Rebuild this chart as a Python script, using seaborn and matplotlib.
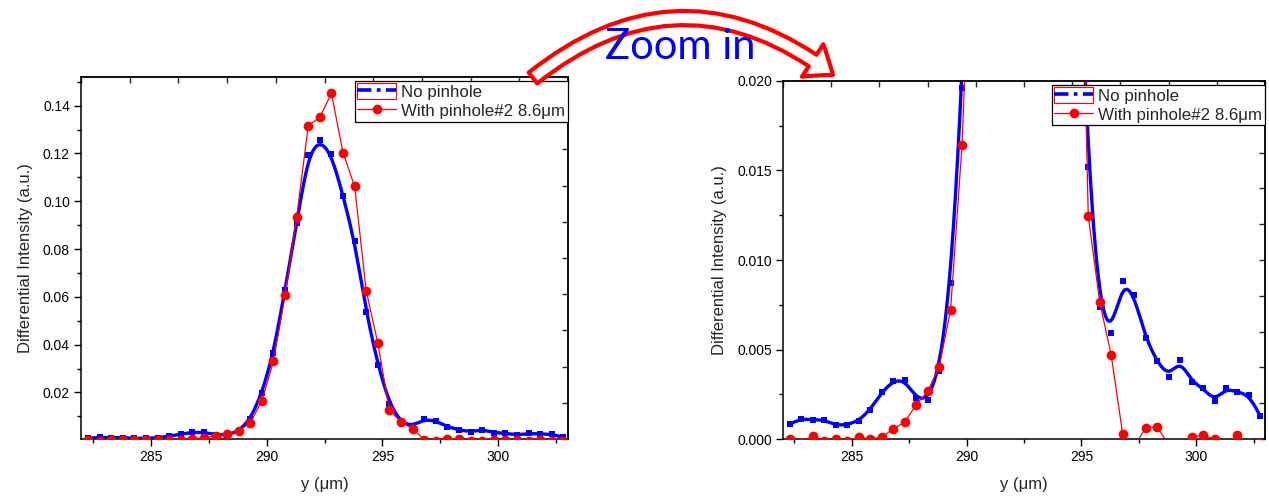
import numpy as np
import pandas as pd
import matplotlib
matplotlib.use("Agg")
import matplotlib.pyplot as plt
import seaborn as sns
from matplotlib.lines import Line2D
from matplotlib.patches import Rectangle, FancyArrowPatch
from matplotlib.legend_handler import HandlerTuple
from matplotlib.ticker import MultipleLocator, FormatStrFormatter

# positions along y (um)
y_pos = [282.3, 282.8, 283.3, 283.8, 284.3, 284.8, 285.3, 285.8, 286.3, 286.8,
         287.3, 287.8, 288.3, 288.8, 289.3, 289.8, 290.3, 290.8, 291.3, 291.8,
         292.3, 292.8, 293.3, 293.8, 294.3, 294.8, 295.3, 295.8, 296.3, 296.8,
         297.3, 297.8, 298.3, 298.8, 299.3, 299.8, 300.3, 300.8, 301.3, 301.8,
         302.3, 302.8]

no_pinhole = [0.00084, 0.00113, 0.00108, 0.00106, 0.00076, 0.00080, 0.00102, 0.00164,
              0.00260, 0.00325, 0.00330, 0.00229, 0.00216, 0.00380, 0.00870, 0.01960,
              0.0365, 0.0630, 0.0909, 0.1195, 0.1257, 0.1197, 0.1023, 0.0832,
              0.0536, 0.0316, 0.0152, 0.0074, 0.0059, 0.0088, 0.00805, 0.00563,
              0.00433, 0.00349, 0.00442, 0.00321, 0.00284, 0.00212, 0.00284, 0.00262,
              0.00247, 0.00126]

with_pinhole = [0.0, -0.0002, 0.00018, -0.0001, 0.00002, -0.0001, 0.0001, 0.0,
                0.0001, 0.00056, 0.00095, 0.0019, 0.00266, 0.0040, 0.0072, 0.0164,
                0.0330, 0.0606, 0.0934, 0.1316, 0.1352, 0.1451, 0.1203, 0.1062,
                0.0625, 0.0406, 0.01245, 0.00764, 0.00468, 0.00028, -0.0004, 0.00061,
                0.00067, -0.0003, -0.0004, 0.00011, 0.0002, 0.0, -0.0003, 0.0002,
                -0.0003, -0.0002]

label_a = "No pinhole"
label_b = "With pinhole#2 8.6\u03bcm"


def bspline(x, y, steps=16):
    # uniform cubic B-spline, data points used as control points (like Origin)
    px = np.r_[x[0], x[0], x, x[-1], x[-1]]
    py = np.r_[y[0], y[0], y, y[-1], y[-1]]
    t = np.linspace(0, 1, steps, endpoint=False)
    b0 = (1 - t) ** 3 / 6
    b1 = (3 * t ** 3 - 6 * t ** 2 + 4) / 6
    b2 = (-3 * t ** 3 + 3 * t ** 2 + 3 * t + 1) / 6
    b3 = t ** 3 / 6
    xs, ys = [], []
    for i in range(len(px) - 3):
        xs.append(b0 * px[i] + b1 * px[i + 1] + b2 * px[i + 2] + b3 * px[i + 3])
        ys.append(b0 * py[i] + b1 * py[i + 1] + b2 * py[i + 2] + b3 * py[i + 3])
    xs.append([px[-1]])
    ys.append([py[-1]])
    return np.concatenate(xs), np.concatenate(ys)


df = pd.DataFrame({"y": y_pos, "no": no_pinhole, "with": with_pinhole})
sx, sy = bspline(np.array(y_pos), np.array(no_pinhole))
smooth = pd.DataFrame({"y": sx, "no": sy})

sns.set_theme(style="ticks")
plt.rcParams["font.family"] = ["Liberation Sans", "DejaVu Sans"]
plt.rcParams["axes.linewidth"] = 1.1

fig = plt.figure(figsize=(12.69, 4.98), dpi=100)
W, H = 1269, 498
ax1 = fig.add_axes([81 / W, 1 - 439 / H, 487 / W, 362 / H])
ax2 = fig.add_axes([783 / W, 1 - 439 / H, 482 / W, 358 / H])

for ax, ylim, major, minor, fmt in [
    (ax1, (0.0005, 0.152), 0.02, 0.01, "%.2f"),
    (ax2, (0.0, 0.020), 0.005, 0.0025, "%.3f"),
]:
    sns.lineplot(data=smooth, x="y", y="no", ax=ax, color="blue", lw=2.4,
                 sort=False, estimator=None)
    sns.scatterplot(data=df, x="y", y="no", ax=ax, color="blue", marker="s",
                    s=18, linewidth=0, zorder=3)
    sns.lineplot(data=df, x="y", y="with", ax=ax, color="red", lw=0.9,
                 marker="o", markersize=7, markeredgewidth=0, sort=False,
                 estimator=None, zorder=4)
    ax.set_xlim(282, 303)
    ax.set_ylim(*ylim)
    ax.xaxis.set_major_locator(MultipleLocator(5))
    ax.xaxis.set_minor_locator(MultipleLocator(2.5))
    ax.yaxis.set_major_locator(MultipleLocator(major))
    ax.yaxis.set_minor_locator(MultipleLocator(minor))
    ax.yaxis.set_major_formatter(FormatStrFormatter(fmt))
    ax.tick_params(which="both", direction="out", top=False, right=False,
                   labelsize=10, color="black", width=1.0, labelcolor="black")
    ax.tick_params(which="major", length=5, pad=3)
    ax.tick_params(which="minor", length=3)
    for s in ax.spines.values():
        s.set_visible(True)
        s.set_color("black")
    ax.set_xlabel("y (\u03bcm)", fontsize=12, labelpad=9)
    ax.set_ylabel("Differential Intensity (a.u.)", fontsize=12, labelpad=7)

    # mirrored ticks on top / right, ten equal divisions
    sec_x = ax.secondary_xaxis("top")
    sec_x.set_xticks(np.linspace(282, 303, 11))
    sec_x.tick_params(direction="in", length=4, width=1.0, labeltop=False)
    sec_x.set_xticklabels([])
    sec_y = ax.secondary_yaxis("right")
    sec_y.set_yticks(np.linspace(ylim[0], ylim[1], 11))
    sec_y.tick_params(direction="in", length=4, width=1.0, labelright=False)
    sec_y.set_yticklabels([])

    h_blue = Line2D([], [], color="blue", lw=2.6, linestyle=(0, (4, 1.5, 1, 1.5)))
    h_box = Rectangle((0, 0), 1, 1, facecolor="none", edgecolor="red", lw=0.8)
    h_red = Line2D([], [], color="red", lw=0.9, marker="o", markersize=7,
                   markeredgewidth=0)
    leg = ax.legend([(h_box, h_blue), h_red], [label_a, label_b],
                    handler_map={tuple: HandlerTuple(ndivide=1)},
                    loc="upper right", bbox_to_anchor=(1.0, 0.99),
                    borderaxespad=0, fontsize=12.2, frameon=True, fancybox=False,
                    edgecolor="black", framealpha=1, handlelength=2.3,
                    handleheight=1.1, handletextpad=0.3, labelspacing=0.12,
                    borderpad=0.15)
    leg.get_frame().set_linewidth(0.9)

fig.text(0.536, 0.905, "Zoom in", fontsize=30, color="blue", ha="center",
         va="center", family=["Lato", "DejaVu Sans"])

arrow = FancyArrowPatch(
    (533 / W, 1 - 78 / H), (833 / W, 1 - 75 / H), transform=fig.transFigure,
    connectionstyle="arc3,rad=-0.39",
    arrowstyle="simple,head_width=1.4,head_length=0.9,tail_width=0.5",
    mutation_scale=20, facecolor="white", edgecolor="red", lw=3,
    shrinkA=0, shrinkB=0)
fig.add_artist(arrow)

fig.savefig("out.png", dpi=100)
